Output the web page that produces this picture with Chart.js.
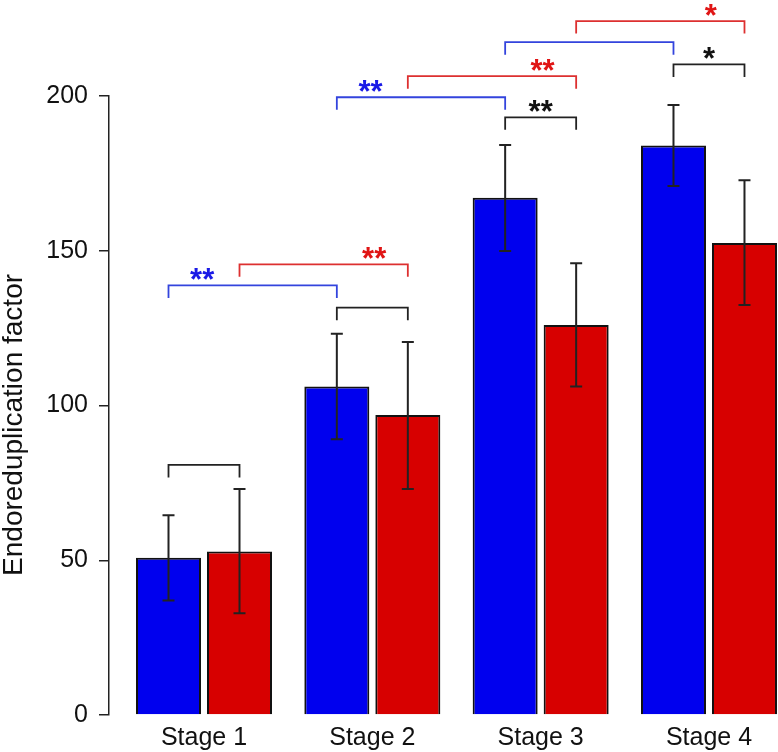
<!DOCTYPE html>
<html>
<head>
<meta charset="utf-8">
<script src="https://cdn.jsdelivr.net/npm/chart.js@4.4.1/dist/chart.umd.min.js"></script>
<style>
  html, body { margin: 0; padding: 0; background: #fff; }
  #wrap { width: 778px; height: 752px; position: relative; }
</style>
</head>
<body>
<div id="wrap"><canvas id="c"></canvas></div>
<script>
// ---- data ----
const categories = ['Stage 1', 'Stage 2', 'Stage 3', 'Stage 4'];
const yTicks = [0, 50, 100, 150, 200];

const blueMeans = [50.8, 106.1, 167.1, 184.0];
const blueLow   = [37.0, 89.1, 149.9, 170.9];
const blueHigh  = [64.5, 123.2, 184.2, 197.1];

const redMeans  = [52.8, 96.9, 126.0, 152.5];
const redLow    = [32.9, 73.0, 106.1, 132.5];
const redHigh   = [73.0, 120.5, 146.0, 172.8];

// significance brackets: type ('within' = blue vs red in one stage,
// 'blue' / 'red' = same series, stage g vs g+1), start stage, level, stars
const bracketType   = ['within', 'within', 'blue', 'red', 'within', 'blue', 'red', 'within', 'blue', 'red'];
const bracketStage  = [0, 1, 0, 0, 2, 1, 1, 3, 2, 2];
const bracketLevel  = [80.8, 131.6, 138.8, 145.6, 193.1, 199.6, 206.4, 210.2, 217.4, 224.2];
const bracketStars  = ['', '', '**', '**', '**', '**', '**', '*', '', '*'];

// ---- styles ----
const FONT = "'Liberation Sans', Arial, Helvetica, sans-serif";
const BLUE = '#0000ee';
const RED = '#d70000';
const lineColors = { within: '#222222', blue: '#3344dd', red: '#dd3030' };
const starColors = { within: '#111111', blue: '#1a1ae6', red: '#e01515' };
const starPos = { within: 0.5, blue: 0.2, red: 0.8 };

const errLows = [blueLow, redLow];
const errHighs = [blueHigh, redHigh];

const extrasPlugin = {
  id: 'extras',
  afterDatasetsDraw(chart) {
    const ctx = chart.ctx;
    const y = chart.scales.y;
    const metas = [chart.getDatasetMeta(0), chart.getDatasetMeta(1)];
    ctx.save();
    // error bars
    ctx.strokeStyle = '#222';
    ctx.lineWidth = 2;
    metas.forEach((meta, d) => {
      meta.data.forEach((bar, i) => {
        const yl = y.getPixelForValue(errLows[d][i]);
        const yh = y.getPixelForValue(errHighs[d][i]);
        const x = bar.x;
        ctx.beginPath();
        ctx.moveTo(x, yl); ctx.lineTo(x, yh);
        ctx.moveTo(x - 6, yl); ctx.lineTo(x + 6, yl);
        ctx.moveTo(x - 6, yh); ctx.lineTo(x + 6, yh);
        ctx.stroke();
      });
    });
    // brackets
    const leg = 12.5;
    bracketType.forEach((t, k) => {
      const g = bracketStage[k];
      let x1, x2;
      if (t === 'within') { x1 = metas[0].data[g].x; x2 = metas[1].data[g].x; }
      else if (t === 'blue') { x1 = metas[0].data[g].x; x2 = metas[0].data[g + 1].x; }
      else { x1 = metas[1].data[g].x; x2 = metas[1].data[g + 1].x; }
      const yy = y.getPixelForValue(bracketLevel[k]);
      ctx.strokeStyle = lineColors[t];
      ctx.lineWidth = 1.8;
      ctx.beginPath();
      ctx.moveTo(x1, yy + leg); ctx.lineTo(x1, yy); ctx.lineTo(x2, yy); ctx.lineTo(x2, yy + leg);
      ctx.stroke();
      if (bracketStars[k]) {
        ctx.fillStyle = starColors[t];
        ctx.font = 'bold 31px ' + FONT;
        ctx.textAlign = 'center';
        ctx.textBaseline = 'alphabetic';
        const sx = x1 + (x2 - x1) * starPos[t];
        ctx.fillText(bracketStars[k], sx, yy + 5);
      }
    });
    ctx.restore();
  }
};

new Chart(document.getElementById('c'), {
  type: 'bar',
  data: {
    datasets: [
      {
        label: 'Series 1',
        data: categories.map((c, i) => ({ x: i + 1, y: blueMeans[i] })),
        backgroundColor: BLUE,
        borderColor: '#111',
        borderWidth: 2,
        categoryPercentage: 0.8436,
        barPercentage: 0.9155
      },
      {
        label: 'Series 2',
        data: categories.map((c, i) => ({ x: i + 1, y: redMeans[i] })),
        backgroundColor: RED,
        borderColor: '#111',
        borderWidth: 2,
        categoryPercentage: 0.8436,
        barPercentage: 0.9155
      }
    ]
  },
  options: {
    responsive: true,
    maintainAspectRatio: false,
    animation: false,
    layout: { padding: { top: 96, right: 0, bottom: 0, left: 0 } },
    plugins: {
      legend: { display: false },
      tooltip: { enabled: false }
    },
    scales: {
      x: {
        type: 'linear',
        offset: false,
        bounds: 'data',
        min: 0.4356,
        max: 4.41,
        grid: { display: false, drawTicks: false, offset: false },
        border: { display: false },
        afterBuildTicks: (scale) => { scale.ticks = categories.map((c, i) => ({ value: i + 1 })); },
        afterFit: (scale) => { scale.height = 37; },
        ticks: {
          color: '#111',
          font: { family: FONT, size: 25 },
          padding: 8,
          maxRotation: 0,
          autoSkip: false,
          callback: (v) => categories[Math.round(v) - 1]
        }
      },
      y: {
        min: 0,
        max: 200,
        afterBuildTicks: (scale) => { scale.ticks = yTicks.map(v => ({ value: v })); },
        afterFit: (scale) => { scale.width = 109; },
        grid: { display: true, drawOnChartArea: false, drawTicks: true, tickLength: 10, color: '#222', lineWidth: 1.5 },
        border: { display: true, color: '#222', width: 1.5 },
        ticks: {
          color: '#111',
          font: { family: FONT, size: 25 },
          padding: 11
        },
        title: {
          display: true,
          text: 'Endoreduplication factor\u00a0\u00a0\u00a0\u00a0\u00a0',
          color: '#111',
          font: { family: FONT, size: 28, lineHeight: 1.05 },
          padding: 0
        }
      }
    }
  },
  plugins: [extrasPlugin]
});
</script>
</body>
</html>
